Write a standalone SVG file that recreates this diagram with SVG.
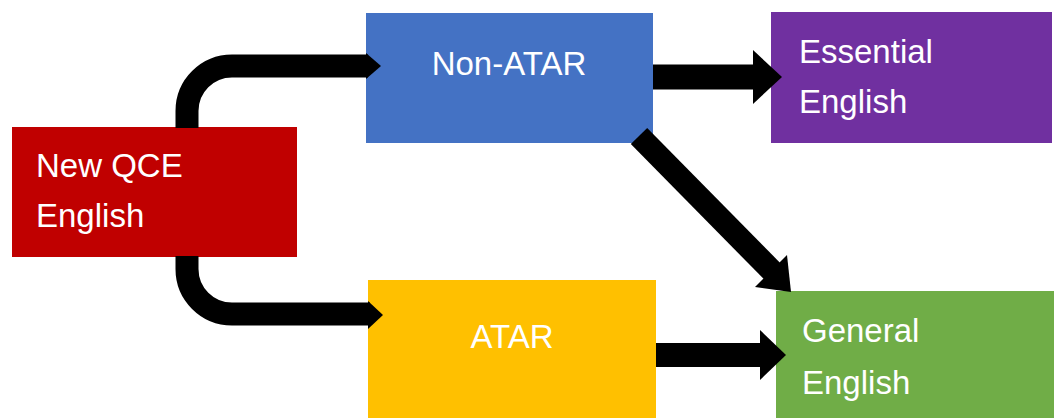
<svg xmlns="http://www.w3.org/2000/svg" width="1054" height="418" viewBox="0 0 1054 418">
<style>
.lbl{font-family:"Liberation Sans",Arial,sans-serif;font-size:33px;fill:#ffffff}
.ln{fill:none;stroke:#000;stroke-width:23;stroke-linecap:butt}
.hd{fill:#000}
</style>
<rect width="1054" height="418" fill="#ffffff"/>
<g id="node-qce">
<rect x="12" y="127" width="285" height="130" fill="#C00000"/>
<text class="lbl" x="36" y="177">New QCE</text>
<text class="lbl" x="36" y="227">English</text>
</g>
<g id="node-nonatar">
<rect x="366" y="13" width="287" height="130" fill="#4472C4"/>
<text class="lbl" x="509" y="75" text-anchor="middle">Non-ATAR</text>
</g>
<g id="node-essential">
<rect x="771" y="12" width="281" height="131" fill="#7030A0"/>
<text class="lbl" x="799" y="63">Essential</text>
<text class="lbl" x="799" y="113">English</text>
</g>
<g id="node-atar">
<rect x="368" y="280" width="288" height="138" fill="#FFC000"/>
<text class="lbl" x="512" y="348" text-anchor="middle">ATAR</text>
</g>
<g id="node-general">
<rect x="776" y="291" width="278" height="127" fill="#70AD47"/>
<text class="lbl" x="802" y="342">General</text>
<text class="lbl" x="802" y="394">English</text>
</g>
<g id="connectors">
<path class="ln" d="M187,128 V111 A45,45 0 0 1 232,66 H368"/>
<polygon class="hd" points="366,53 381,66 366,79"/>
<path class="ln" d="M187,256 V269 A45,45 0 0 0 232,314 H370"/>
<polygon class="hd" points="368,301 383,315 368,329"/>
<path class="ln" d="M653,77 H756" style="stroke-width:25"/>
<polygon class="hd" points="753,50 782,77 753,104"/>
<path class="ln" d="M639,136 L772,271"/>
<polygon class="hd" points="755,287 791,292 787,255"/>
<path class="ln" d="M656,355 H762" style="stroke-width:24"/>
<polygon class="hd" points="760,330 786,355 760,380"/>
</g>
</svg>
